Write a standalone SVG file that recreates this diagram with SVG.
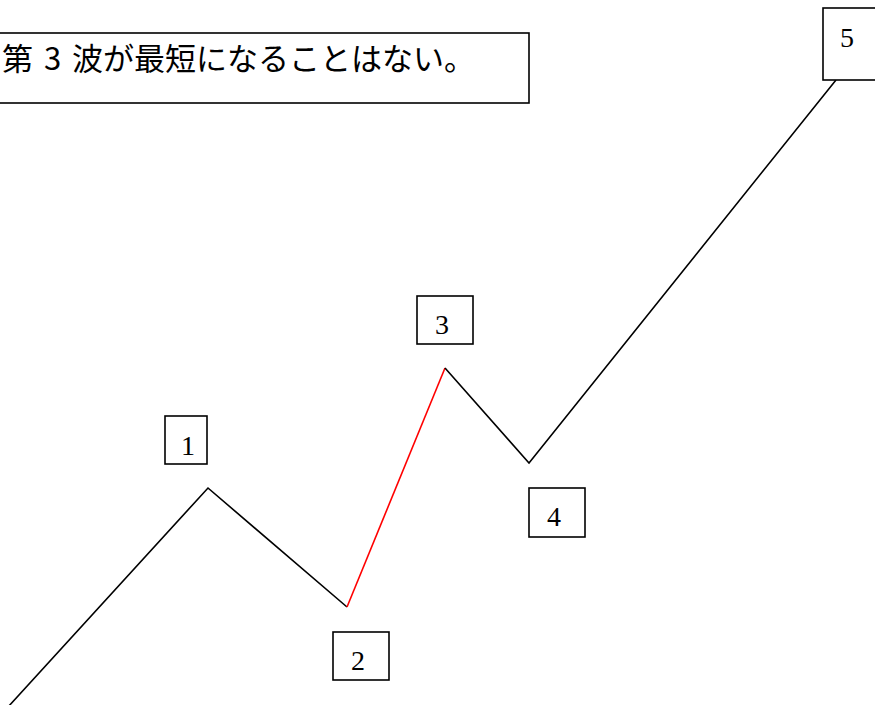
<svg xmlns="http://www.w3.org/2000/svg" width="875" height="705" viewBox="0 0 875 705">
<style>
.box{fill:#fff;stroke:#000;stroke-width:1.6}
.num{font-family:"Liberation Serif",serif;font-size:28px;text-anchor:middle;fill:#000}
.title{font-family:"Noto Sans CJK JP",sans-serif;font-size:31px;word-spacing:4px;fill:#000}
.wave{fill:none;stroke:#000;stroke-width:1.6}
</style>
<g id="title">
<rect class="box" x="-5" y="33" width="534" height="70"/>
<text class="title" x="2" y="70">第 3 波が最短になることはない。</text>
</g>
<g id="connectors">
<polyline class="wave" points="8,707 208,488 347,607"/>
<line x1="347" y1="607" x2="445" y2="368" stroke="#f00" stroke-width="1.6"/>
<polyline class="wave" points="445,368 529,463 836,80"/>
</g>
<g id="n1"><rect class="box" x="165" y="416" width="42" height="48"/><text class="num" x="188" y="455">1</text></g>
<g id="n2"><rect class="box" x="333" y="632" width="56" height="48"/><text class="num" x="358" y="670">2</text></g>
<g id="n3"><rect class="box" x="417" y="296" width="56" height="48"/><text class="num" x="442" y="334">3</text></g>
<g id="n4"><rect class="box" x="529" y="488" width="56" height="49"/><text class="num" x="554" y="526">4</text></g>
<g id="n5"><rect class="box" x="823" y="8" width="57" height="72"/><text class="num" x="847" y="47">5</text></g>
</svg>
